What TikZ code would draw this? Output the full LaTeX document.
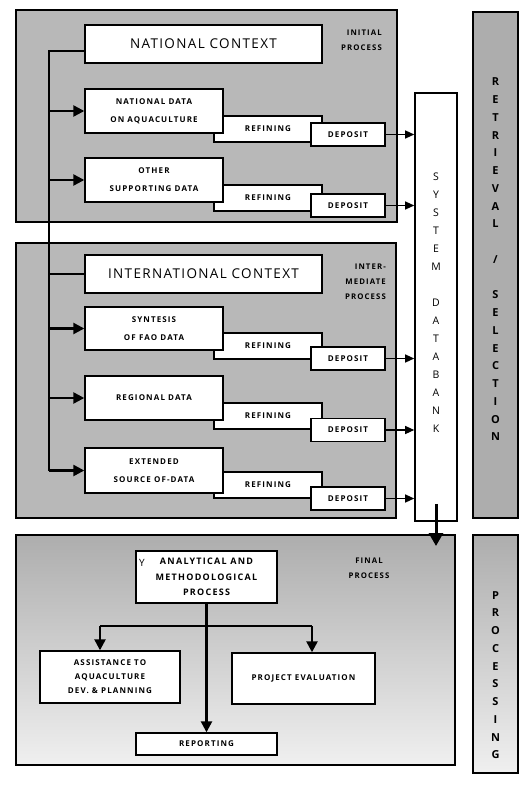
\documentclass[tikz,border=0pt]{standalone}
\usepackage{fontspec}
\setmainfont{Open Sans}
\newfontfamily\widefont[LetterSpace=10]{Open Sans}
\newfontfamily\lblfont[LetterSpace=14]{Open Sans}
\usetikzlibrary{positioning, arrows.meta}

\tikzset{
  panel/.style={draw, line width=2pt, fill=black!28, inner sep=0pt},
  fadepanel/.style={draw, line width=2pt, top color=black!32, bottom color=black!6, inner sep=0pt},
  ctxbox/.style={draw, line width=1.4pt, fill=white, inner sep=0pt,
    minimum width=237pt, minimum height=38pt, font=\widefont\fontsize{13.5}{15}\selectfont},
  databox/.style={draw, line width=1.4pt, fill=white, inner sep=0pt, align=center,
    minimum width=138pt, font=\lblfont\bfseries\fontsize{8}{18}\selectfont},
  refbox/.style={draw, line width=1.4pt, fill=white, inner sep=0pt,
    minimum width=108pt, minimum height=26pt, font=\lblfont\bfseries\fontsize{8}{9}\selectfont},
  depbox/.style={draw, line width=1.4pt, fill=white, inner sep=0pt,
    minimum width=74pt, minimum height=23pt, font=\lblfont\bfseries\fontsize{8}{9}\selectfont},
  finbox/.style={draw, line width=1.4pt, fill=white, inner sep=0pt, align=center,
    font=\lblfont\bfseries\fontsize{8}{14}\selectfont},
  sidetext/.style={align=center, inner sep=0pt, font=\bfseries\fontsize{11}{17.75}\selectfont},
  steplabel/.style={inner sep=0pt, font=\lblfont\bfseries\fontsize{7.8}{15}\selectfont},
  inarr/.style={line width=2.4pt, -{Triangle[length=11pt,width=11pt]}},
  outarr/.style={line width=1.2pt, -{Triangle[length=9pt,width=8pt]}},
  trunk/.style={line width=2.4pt}
}

\begin{document}
\begin{tikzpicture}[x=1pt,y=-1pt]
    \useasboundingbox (0,0) rectangle (525,786);

    % shaded panels
    \node[panel, minimum width=381pt, minimum height=212pt] (initial) at (206.5,116) {};
    \node[panel, minimum width=380pt, minimum height=275pt] (inter) at (206,380.5) {};
    \node[fadepanel, minimum width=439pt, minimum height=230pt] (final) at (235.5,650) {};
    \node[panel, fill=black!32, minimum width=45pt, minimum height=506pt] (retr) at (495.5,265) {};
    \node[fadepanel, minimum width=45pt, minimum height=238pt] (proc) at (495.5,654) {};

    % side texts
    \node[sidetext] (retrtxt) at (495.5,259.5) {R\\E\\T\\R\\I\\E\\V\\A\\L\\[17.75pt]/\\[17.75pt]S\\E\\L\\E\\C\\T\\I\\O\\N};
    \node[sidetext] (proctxt) at (495.5,675) {P\\R\\O\\C\\E\\S\\S\\I\\N\\G};

    % databank
    \node[draw, line width=1.6pt, fill=white, minimum width=42pt, minimum height=428pt] (dbk) at (436,307) {};
    \node[sidetext, font=\fontsize{10.5}{18}\selectfont] (dbktxt) at (436,303) {S\\Y\\S\\T\\E\\M\\[18pt]D\\A\\T\\A\\B\\A\\N\\K};

    % process labels
    \node[steplabel, align=right, anchor=east] (initlbl) at (382,40.5) {INITIAL\\PROCESS};
    \node[steplabel, align=right, anchor=east] (interlbl) at (386,282) {INTER-\\MEDIATE\\PROCESS};
    \node[steplabel, align=center] (finlbl) at (369,568.5) {FINAL\\PROCESS};

    % context boxes
    \node[ctxbox] (nat) at (203.5,44) {NATIONAL CONTEXT};
    \node[ctxbox] (intl) at (203.5,274) {INTERNATIONAL CONTEXT};

    % refining / deposit / data rows
    \node[refbox] (r1) at (268,129) {REFINING};
    \node[depbox] (p1) at (348,134.5) {DEPOSIT};
    \node[databox, minimum height=44pt] (d1) at (154,111) {NATIONAL DATA\\ON AQUACULTURE};

    \node[refbox] (r2) at (268,198) {REFINING};
    \node[depbox] (p2) at (348,205.5) {DEPOSIT};
    \node[databox, minimum height=44pt] (d2) at (154,180) {OTHER\\SUPPORTING DATA};

    \node[refbox] (r3) at (268,346) {REFINING};
    \node[depbox] (p3) at (348,358.5) {DEPOSIT};
    \node[databox, minimum height=43pt] (d3) at (154,328.5) {SYNTESIS\\OF FAO DATA};

    \node[refbox] (r4) at (268,416) {REFINING};
    \node[depbox] (p4) at (348,430) {DEPOSIT};
    \node[databox, minimum height=44pt] (d4) at (154,398) {REGIONAL DATA};

    \node[refbox] (r5) at (268,485) {REFINING};
    \node[depbox] (p5) at (348,498.5) {DEPOSIT};
    \node[databox, minimum height=45pt] (d5) at (154,470.5) {EXTENDED\\SOURCE OF-DATA};

    % feeding line on the left
    \coordinate (top) at (49,51);
    \coordinate (bot) at (49,470.5);
    \draw[trunk] (top -| nat.west) -- (top) -- (bot);
    \draw[trunk] (top |- intl.west) -- (intl.west);
    \draw[inarr] (top |- d1.west) -- (d1.west);
    \draw[inarr] (top |- d2.west) -- (d2.west);
    \draw[inarr] (top |- d3.west) -- (d3.west);
    \draw[inarr] (top |- d4.west) -- (d4.west);
    \draw[inarr] (bot) -- (d5.west);

    % deposits into the databank
    \draw[outarr] (p1.east) -- (p1.east -| dbk.west);
    \draw[outarr] (p2.east) -- (p2.east -| dbk.west);
    \draw[outarr] (p3.east) -- (p3.east -| dbk.west);
    \draw[outarr] (p4.east) -- (p4.east -| dbk.west);
    \draw[outarr] (p5.east) -- (p5.east -| dbk.west);

    % databank down to the final process
    \coordinate (drop) at (436,546);
    \draw[line width=3pt, -{Triangle[length=13pt,width=14pt]}] ([yshift=18pt]dbk.south) -- (drop);

    % final process
    \node[finbox, minimum width=141pt, minimum height=52pt, font=\lblfont\bfseries\fontsize{9}{15.5}\selectfont] (ana) at (206.5,577) {ANALYTICAL AND\\METHODOLOGICAL\\PROCESS};
    \node[inner sep=0pt, font=\fontsize{10}{10}\selectfont] (ymark) at (142,563) {Y};
    \node[finbox, minimum width=140pt, minimum height=52pt] (ass) at (110,677) {ASSISTANCE TO\\AQUACULTURE\\DEV. \& PLANNING};
    \node[finbox, minimum width=143pt, minimum height=51pt] (proj) at (303.5,678.5) {PROJECT EVALUATION};
    \node[finbox, minimum width=141pt, minimum height=22pt] (rep) at (206.5,744) {REPORTING};

    \coordinate (bl) at (100,626);
    \coordinate (br) at (312,626);
    \draw[inarr] (ana.south) -- (rep.north);
    \draw[trunk] (bl) -- (br);
    \draw[inarr] (bl) -- (bl |- ass.north);
    \draw[inarr] (br) -- (br |- proj.north);
\end{tikzpicture}
\end{document}
